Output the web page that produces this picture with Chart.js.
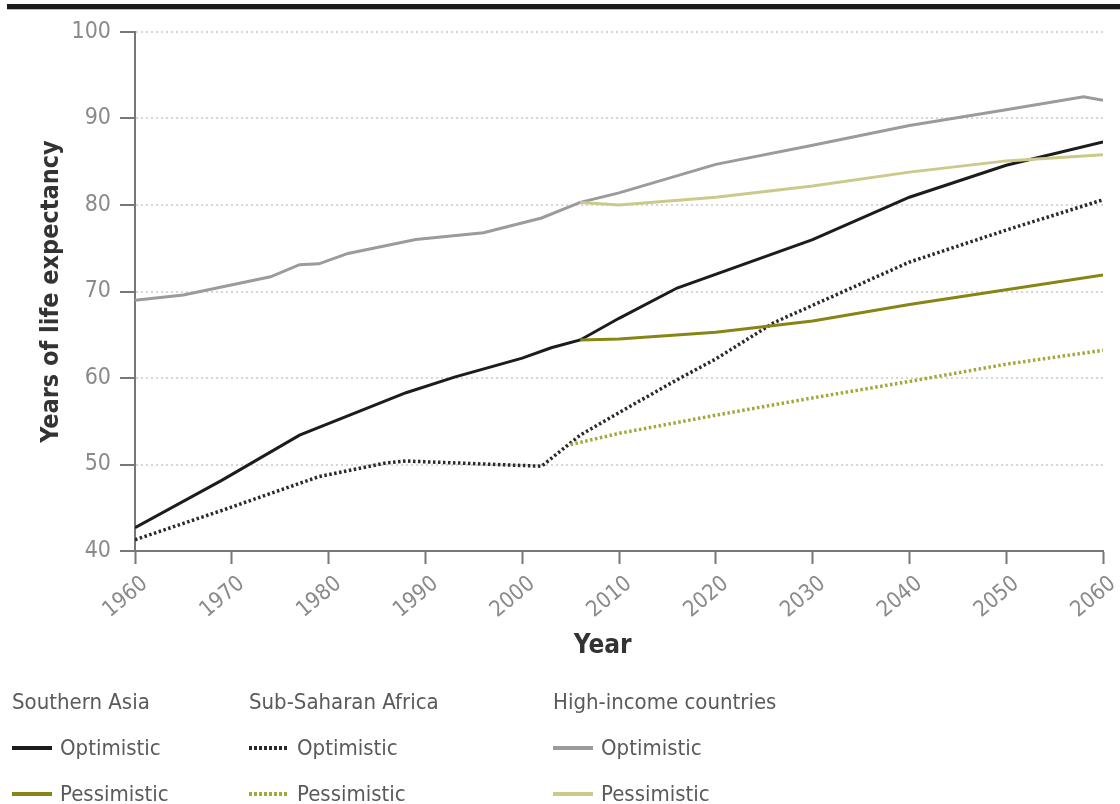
<!DOCTYPE html>
<html>
<head>
<meta charset="utf-8">
<script src="https://cdn.jsdelivr.net/npm/chart.js@4"></script>
<style>
  body { margin: 0; background: #fff; width: 1120px; height: 804px; overflow: hidden; position: relative;
         font-family: 'Liberation Sans Narrow', 'Arial Narrow', 'DejaVu Sans Condensed', sans-serif; }
  #topbar { position: absolute; left: 7px; top: 4px; width: 1113px; height: 5px; background: #1b1b1b; border-bottom: 1px solid #bdbdbd; }
  #chart { position: absolute; left: 0; top: 0; }
  .legend-col { position: absolute; top: 679px; color: #5a5a5a; font-size: 22px; }
  .legend-row { height: 46px; line-height: 46px; display: flex; align-items: center; white-space: nowrap; }
  .swatch { width: 40px; height: 4px; margin-right: 8px; }
</style>
</head>
<body>
<div id="topbar"></div>
<canvas id="chart" width="1120" height="680"></canvas>
<div id="legend"></div>
<script>
// x = year, y = years of life expectancy
const saOptYears   = [1960, 1969, 1977, 1988, 1993, 2000, 2003, 2006, 2010, 2016, 2030, 2040, 2050, 2060];
const saOptValues  = [42.7, 48.2, 53.4, 58.3, 60.1, 62.3, 63.5, 64.4, 66.9, 70.4, 76.0, 80.9, 84.6, 87.3];
const saPesYears   = [2006, 2010, 2020, 2030, 2040, 2050, 2060];
const saPesValues  = [64.4, 64.5, 65.3, 66.6, 68.5, 70.2, 71.9];

const ssaOptYears  = [1960, 1969, 1979, 1986, 1988, 2002, 2006, 2010, 2016, 2020, 2026, 2030, 2040, 2050, 2060];
const ssaOptValues = [41.3, 44.7, 48.6, 50.2, 50.4, 49.8, 53.4, 56.0, 59.8, 62.2, 66.4, 68.4, 73.4, 77.1, 80.6];
const ssaPesYears  = [2005, 2010, 2020, 2030, 2040, 2050, 2060];
const ssaPesValues = [52.3, 53.6, 55.7, 57.7, 59.6, 61.6, 63.2];

const hiOptYears   = [1960, 1965, 1974, 1977, 1979, 1982, 1989, 1996, 2002, 2006, 2010, 2020, 2030, 2040, 2050, 2058, 2060];
const hiOptValues  = [69.0, 69.6, 71.7, 73.1, 73.2, 74.4, 76.0, 76.8, 78.5, 80.3, 81.4, 84.7, 86.9, 89.2, 91.0, 92.5, 92.1];
const hiPesYears   = [2006, 2010, 2020, 2030, 2040, 2050, 2060];
const hiPesValues  = [80.3, 80.0, 80.9, 82.2, 83.8, 85.1, 85.8];

const groups = ['Southern Asia', 'Sub-Saharan Africa', 'High-income countries'];
const scenarios = ['Optimistic', 'Pessimistic'];

const FONT = "'Liberation Sans Narrow', 'Arial Narrow', 'DejaVu Sans Condensed', sans-serif";

const toPoints = (xs, ys) => xs.map((x, i) => ({ x: x, y: ys[i] }));

const series = [
    { group: 0, scen: 0, data: toPoints(saOptYears, saOptValues),   color: '#1c1c1c', dotted: false },
    { group: 0, scen: 1, data: toPoints(saPesYears, saPesValues),   color: '#878516', dotted: false },
    { group: 1, scen: 0, data: toPoints(ssaOptYears, ssaOptValues), color: '#2a2a2a', dotted: true },
    { group: 1, scen: 1, data: toPoints(ssaPesYears, ssaPesValues), color: '#a3a83a', dotted: true },
    { group: 2, scen: 0, data: toPoints(hiOptYears, hiOptValues),   color: '#9b9b9b', dotted: false },
    { group: 2, scen: 1, data: toPoints(hiPesYears, hiPesValues),   color: '#cbca8c', dotted: false }
];

// draw order: pale lines first, black on top
const drawOrder = [5, 4, 3, 1, 2, 0];

new Chart(document.getElementById('chart'), {
    type: 'line',
    data: {
        datasets: drawOrder.map(i => {
            const s = series[i];
            return {
                label: groups[s.group] + ' ' + scenarios[s.scen],
                data: s.data,
                borderColor: s.color,
                borderWidth: s.dotted ? 3.5 : 3,
                borderDash: s.dotted ? [2.5, 2.5] : [],
                pointRadius: 0,
                tension: 0,
                fill: false
            };
        })
    },
    options: {
        responsive: false,
        animation: false,
        layout: { padding: { top: 32, right: 17, left: 0, bottom: 0 } },
        plugins: { legend: { display: false }, tooltip: { enabled: false } },
        scales: {
            x: {
                type: 'linear',
                min: 1960,
                max: 2060,
                ticks: {
                    stepSize: 10,
                    autoSkip: false,
                    callback: v => String(v),
                    color: '#8a8a8a',
                    font: { family: FONT, size: 22 },
                    minRotation: 40,
                    maxRotation: 40,
                    labelOffset: 10,
                    padding: 7
                },
                grid: { drawOnChartArea: false, drawTicks: true, tickLength: 13, tickColor: '#777', tickWidth: 2 },
                border: { color: '#777', width: 2 },
                title: {
                    display: true,
                    text: 'Year\u00a0\u00a0\u00a0\u00a0',
                    color: '#333',
                    font: { family: FONT, size: 26, weight: 'bold' },
                    padding: { top: 0, bottom: 18 }
                },
                afterFit: s => {
                    s.height = 129;
                    // labels sit left of their ticks, no extra room needed on the right
                    s.paddingRight = 0;
                    s.paddingLeft = 0;
                }
            },
            y: {
                min: 40,
                max: 100,
                ticks: {
                    stepSize: 10,
                    color: '#8a8a8a',
                    font: { family: FONT, size: 23 },
                    padding: 9
                },
                grid: { color: '#d6d6d6', lineWidth: 2, drawTicks: true, tickLength: 15, tickColor: '#777', tickWidth: 2 },
                border: { color: '#777', width: 2, dash: [2, 3] },
                title: {
                    display: true,
                    text: 'Years of life expectancy',
                    color: '#333',
                    font: { family: FONT, size: 25, weight: 'bold' },
                    padding: { top: 36, bottom: 0 }
                },
                afterFit: s => { s.width = 135; }
            }
        }
    }
});

// legend below the chart, one column per region
const legendX = [12, 249, 553];
const legend = document.getElementById('legend');
groups.forEach((g, gi) => {
    const col = document.createElement('div');
    col.className = 'legend-col';
    col.style.left = legendX[gi] + 'px';
    let html = '<div class="legend-row">' + g + '</div>';
    scenarios.forEach((sc, si) => {
        const s = series.find(d => d.group === gi && d.scen === si);
        const bg = s.dotted
            ? 'background: repeating-linear-gradient(90deg, ' + s.color + ' 0 3px, transparent 3px 5px);'
            : 'background: ' + s.color + ';';
        html += '<div class="legend-row"><span class="swatch" style="' + bg + '"></span>' + sc + '</div>';
    });
    col.innerHTML = html;
    legend.appendChild(col);
});
</script>
</body>
</html>
